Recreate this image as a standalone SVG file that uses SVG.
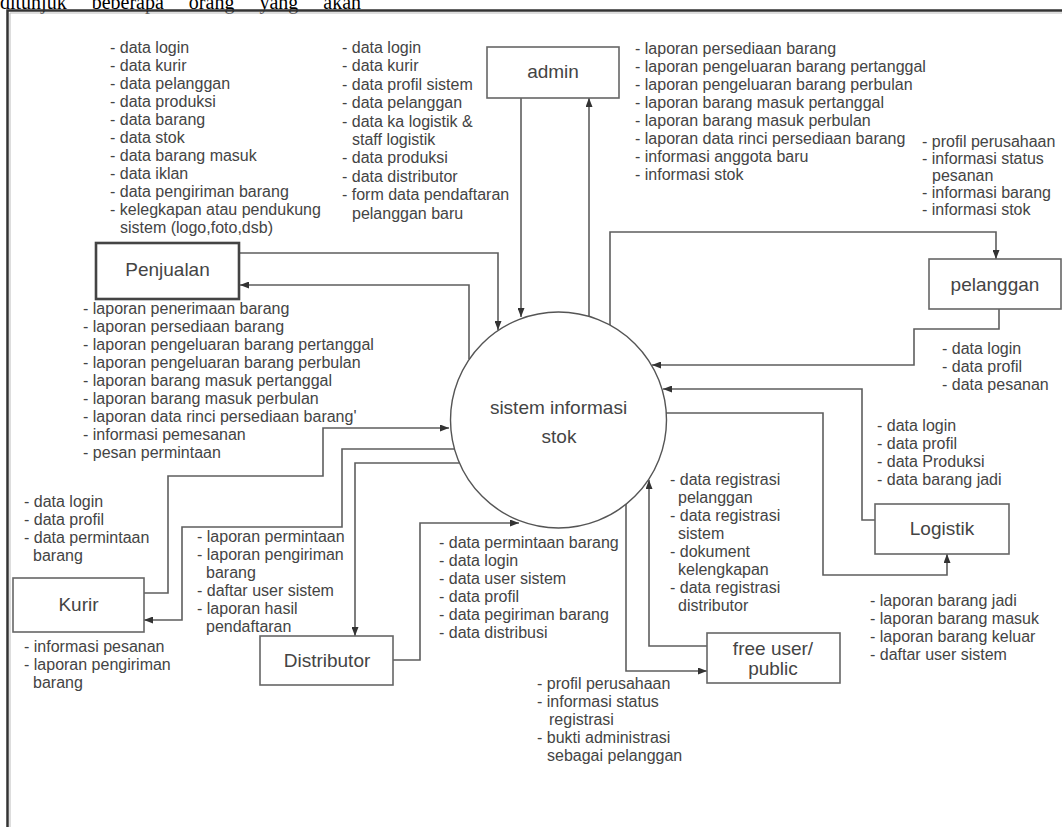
<svg xmlns="http://www.w3.org/2000/svg" width="1062" height="827" viewBox="0 0 1062 827">
<style>
.t{font-family:"Liberation Sans",Arial,sans-serif;font-size:16px;fill:#444}
.n{font-family:"Liberation Sans",Arial,sans-serif;font-size:19px;fill:#444;text-anchor:middle}
.box{fill:#fff;stroke:#666;stroke-width:1.6}
.c{fill:none;stroke:#5e5e5e;stroke-width:1.6}
.a{marker-end:url(#ah)}
</style>
<defs>
<marker id="ah" markerUnits="userSpaceOnUse" markerWidth="9" markerHeight="7" refX="9" refY="3.5" orient="auto">
<path d="M0,0 L9,3.5 L0,7 z" fill="#333"/>
</marker>
</defs>
<rect width="1062" height="827" fill="#fff"/>
<text x="0" y="8.5" font-family="'Liberation Serif','Times New Roman',serif" font-size="20" fill="#000" word-spacing="20">ditunjuk beberapa orang yang akan</text>
<path d="M7.5 827 V10.5 H1062" fill="none" stroke="#333" stroke-width="2.5"/>
<path d="M10 827 V13 H1062" fill="none" stroke="#bbb" stroke-width="1"/>

<g id="connectors">
<path class="c a" d="M239 253 H498 V330"/>
<path class="c a" d="M469 359 V285 H240"/>
<path class="c a" d="M521 98 V317"/>
<path class="c a" d="M589 317 V98"/>
<path class="c a" d="M610 325 V232 H996 V259"/>
<path class="c a" d="M999 309 V329 H914 V365 H652"/>
<path class="c a" d="M875 520 H862 V389 H663"/>
<path class="c a" d="M666 413 H823 V575 H947 V554"/>
<path class="c a" d="M707 646 H649 V480"/>
<path class="c a" d="M626 504 V671 H707"/>
<path class="c a" d="M393 660 H420 V523 H519"/>
<path class="c a" d="M459 463 H355 V636"/>
<path class="c a" d="M144 593 H168 V476 H323 V428 H449"/>
<path class="c a" d="M454 449 H342 V527 H182 V620 H144"/>
</g>

<g id="sistem">
<circle cx="558.5" cy="420" r="108" fill="none" stroke="#555" stroke-width="1.4"/>
<text class="n" x="558.5" y="414" font-size="25">sistem informasi</text>
<text class="n" x="559" y="443" font-size="25">stok</text>
</g>
<g id="admin">
<rect class="box" x="487" y="47" width="132" height="51"/>
<text class="n" x="553" y="78">admin</text>
</g>
<g id="penjualan">
<rect x="96" y="243" width="143" height="56" fill="#fff" stroke="#444" stroke-width="2.6"/>
<text class="n" x="167.5" y="276">Penjualan</text>
</g>
<g id="pelanggan">
<rect class="box" x="929" y="259" width="132" height="50"/>
<text class="n" x="995" y="291">pelanggan</text>
</g>
<g id="logistik">
<rect class="box" x="875" y="504" width="134" height="50"/>
<text class="n" x="942" y="535">Logistik</text>
</g>
<g id="freeuser">
<rect class="box" x="707" y="633" width="133" height="50"/>
<text class="n" x="773" y="655">free user/</text>
<text class="n" x="773" y="675">public</text>
</g>
<g id="distributor">
<rect class="box" x="260" y="636" width="133" height="49"/>
<text class="n" x="327" y="667">Distributor</text>
</g>
<g id="kurir">
<rect class="box" x="13" y="578" width="131" height="54"/>
<text class="n" x="78.5" y="611" font-size="16">Kurir</text>
</g>

<g id="labels">
<text class="t">
<tspan x="110" y="53">- data login</tspan>
<tspan x="110" y="71">- data kurir</tspan>
<tspan x="110" y="89">- data pelanggan</tspan>
<tspan x="110" y="107">- data produksi</tspan>
<tspan x="110" y="125">- data barang</tspan>
<tspan x="110" y="143">- data stok</tspan>
<tspan x="110" y="161">- data barang masuk</tspan>
<tspan x="110" y="179">- data iklan</tspan>
<tspan x="110" y="197">- data pengiriman barang</tspan>
<tspan x="110" y="215">- kelegkapan atau pendukung</tspan>
<tspan x="120" y="233">sistem (logo,foto,dsb)</tspan>
</text>
<text class="t">
<tspan x="342" y="53">- data login</tspan>
<tspan x="342" y="71.4">- data kurir</tspan>
<tspan x="342" y="89.8">- data profil sistem</tspan>
<tspan x="342" y="108.2">- data pelanggan</tspan>
<tspan x="342" y="126.6">- data ka logistik &amp;</tspan>
<tspan x="352" y="145">staff logistik</tspan>
<tspan x="342" y="163.4">- data produksi</tspan>
<tspan x="342" y="181.8">- data distributor</tspan>
<tspan x="342" y="200.2">- form data pendaftaran</tspan>
<tspan x="352" y="218.6">pelanggan baru</tspan>
</text>
<text class="t">
<tspan x="635" y="54">- laporan persediaan barang</tspan>
<tspan x="635" y="72">- laporan pengeluaran barang pertanggal</tspan>
<tspan x="635" y="90">- laporan pengeluaran barang perbulan</tspan>
<tspan x="635" y="108">- laporan barang masuk pertanggal</tspan>
<tspan x="635" y="126">- laporan barang masuk perbulan</tspan>
<tspan x="635" y="144">- laporan data rinci persediaan barang</tspan>
<tspan x="635" y="162">- informasi anggota baru</tspan>
<tspan x="635" y="180">- informasi stok</tspan>
</text>
<text class="t">
<tspan x="922" y="147">- profil perusahaan</tspan>
<tspan x="922" y="164">- informasi status</tspan>
<tspan x="932" y="181">pesanan</tspan>
<tspan x="922" y="198">- informasi barang</tspan>
<tspan x="922" y="215">- informasi stok</tspan>
</text>
<text class="t">
<tspan x="83" y="314">- laporan penerimaan barang</tspan>
<tspan x="83" y="332">- laporan persediaan barang</tspan>
<tspan x="83" y="350">- laporan pengeluaran barang pertanggal</tspan>
<tspan x="83" y="368">- laporan pengeluaran barang perbulan</tspan>
<tspan x="83" y="386">- laporan barang masuk pertanggal</tspan>
<tspan x="83" y="404">- laporan barang masuk perbulan</tspan>
<tspan x="83" y="422">- laporan data rinci persediaan barang'</tspan>
<tspan x="83" y="440">- informasi pemesanan</tspan>
<tspan x="83" y="458">- pesan permintaan</tspan>
</text>
<text class="t">
<tspan x="942" y="354">- data login</tspan>
<tspan x="942" y="372">- data profil</tspan>
<tspan x="942" y="390">- data pesanan</tspan>
</text>
<text class="t">
<tspan x="877" y="431">- data login</tspan>
<tspan x="877" y="449">- data profil</tspan>
<tspan x="877" y="467">- data Produksi</tspan>
<tspan x="877" y="485">- data barang jadi</tspan>
</text>
<text class="t">
<tspan x="670" y="485">- data registrasi</tspan>
<tspan x="678" y="503">pelanggan</tspan>
<tspan x="670" y="521">- data registrasi</tspan>
<tspan x="678" y="539">sistem</tspan>
<tspan x="670" y="557">- dokument</tspan>
<tspan x="678" y="575">kelengkapan</tspan>
<tspan x="670" y="593">- data registrasi</tspan>
<tspan x="678" y="611">distributor</tspan>
</text>
<text class="t">
<tspan x="537" y="689">- profil perusahaan</tspan>
<tspan x="537" y="707">- informasi status</tspan>
<tspan x="549" y="725">registrasi</tspan>
<tspan x="537" y="743">- bukti administrasi</tspan>
<tspan x="547" y="761">sebagai pelanggan</tspan>
</text>
<text class="t">
<tspan x="870" y="606">- laporan barang jadi</tspan>
<tspan x="870" y="624">- laporan barang masuk</tspan>
<tspan x="870" y="642">- laporan barang keluar</tspan>
<tspan x="870" y="660">- daftar user sistem</tspan>
</text>
<text class="t">
<tspan x="439" y="548">- data permintaan barang</tspan>
<tspan x="439" y="566">- data login</tspan>
<tspan x="439" y="584">- data user sistem</tspan>
<tspan x="439" y="602">- data profil</tspan>
<tspan x="439" y="620">- data pegiriman barang</tspan>
<tspan x="439" y="638">- data distribusi</tspan>
</text>
<text class="t">
<tspan x="197" y="542">- laporan permintaan</tspan>
<tspan x="197" y="560">- laporan pengiriman</tspan>
<tspan x="206" y="578">barang</tspan>
<tspan x="197" y="596">- daftar user sistem</tspan>
<tspan x="197" y="614">- laporan hasil</tspan>
<tspan x="206" y="632">pendaftaran</tspan>
</text>
<text class="t">
<tspan x="24" y="507">- data login</tspan>
<tspan x="24" y="525">- data profil</tspan>
<tspan x="24" y="543">- data permintaan</tspan>
<tspan x="33" y="561">barang</tspan>
</text>
<text class="t">
<tspan x="24" y="652">- informasi pesanan</tspan>
<tspan x="24" y="670">- laporan pengiriman</tspan>
<tspan x="33" y="688">barang</tspan>
</text>
</g>
</svg>
